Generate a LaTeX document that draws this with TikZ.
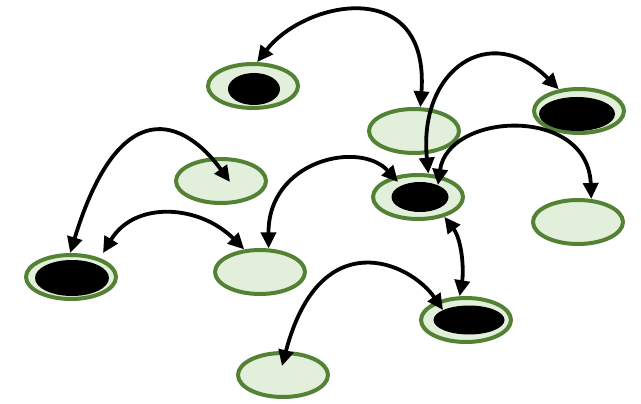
\documentclass[tikz,border=0pt]{standalone}
\usetikzlibrary{shapes.geometric,arrows.meta}
\definecolor{leafgreen}{HTML}{548235}
\definecolor{palegreen}{HTML}{E2EFDA}

\begin{document}
\begin{tikzpicture}[x=1pt,y=-1pt]\tikzstyle{every node}+=[inner sep=0pt]
	  \tikzstyle{cell}=[ellipse, draw=leafgreen, fill=palegreen, line width=4pt, minimum width=90pt, minimum height=44pt]
	  \tikzstyle{hole}=[ellipse, fill=black]
	  \tikzstyle{link}=[black, line width=3.8pt, >={Triangle[length=16pt,width=15pt]}, <->]
	  \useasboundingbox (0,0) rectangle (641,404);
	  % cells
	  \node [cell] (A) at (253,86) {};
	  \node [hole, minimum width=52pt, minimum height=32pt] (A-h) at (254,89) {};
	  \node [cell] (B) at (414,131) {};
	  \node [cell] (C) at (579,111) {};
	  \node [hole, minimum width=76pt, minimum height=34pt] (C-h) at (577,114) {};
	  \node [cell] (D) at (418,197) {};
	  \node [hole, minimum width=57pt, minimum height=30pt] (D-h) at (420,197) {};
	  \node [cell] (E) at (578,222) {};
	  \node [cell] (F) at (221,181) {};
	  \node [cell] (G) at (71,277) {};
	  \node [hole, minimum width=74pt, minimum height=36pt] (G-h) at (72,278) {};
	  \node [cell] (H) at (260,272) {};
	  \node [cell] (I) at (466,320) {};
	  \node [hole, minimum width=71pt, minimum height=29pt] (I-h) at (469,320) {};
	  \node [cell] (J) at (283,375) {};
	  % free ends
	  \coordinate (D-r) at (438,185);
	  \coordinate (D-l) at (398,182);
	  \coordinate (F-in) at (230,182);
	  \coordinate (G-r) at (103,253);
	  \coordinate (I-in) at (443,310);
	  \coordinate (J-in) at (282,366);
	  % links
	  \draw [link] (A.80) .. controls (305,0) and (430,-25) .. (B.75);
	  \draw [link] (D.66) .. controls (418,70) and (490,20) .. (C.133);
	  \draw [link] (D-r) .. controls (448,112) and (588,105) .. (E.60);
	  \draw [link] (F-in) .. controls (185,120) and (120,90) .. (G.92);
	  \draw [link] (G-r) .. controls (135,200) and (200,205) .. (H.125);
	  \draw [link] (H.70) .. controls (268,160) and (360,140) .. (D-l);
	  \draw [link] (D.-37) .. controls (462,240) and (464,270) .. (I.105);
	  \draw [link] (I-in) .. controls (410,262) and (320,222) .. (J-in);
	\end{tikzpicture}
\end{document}
